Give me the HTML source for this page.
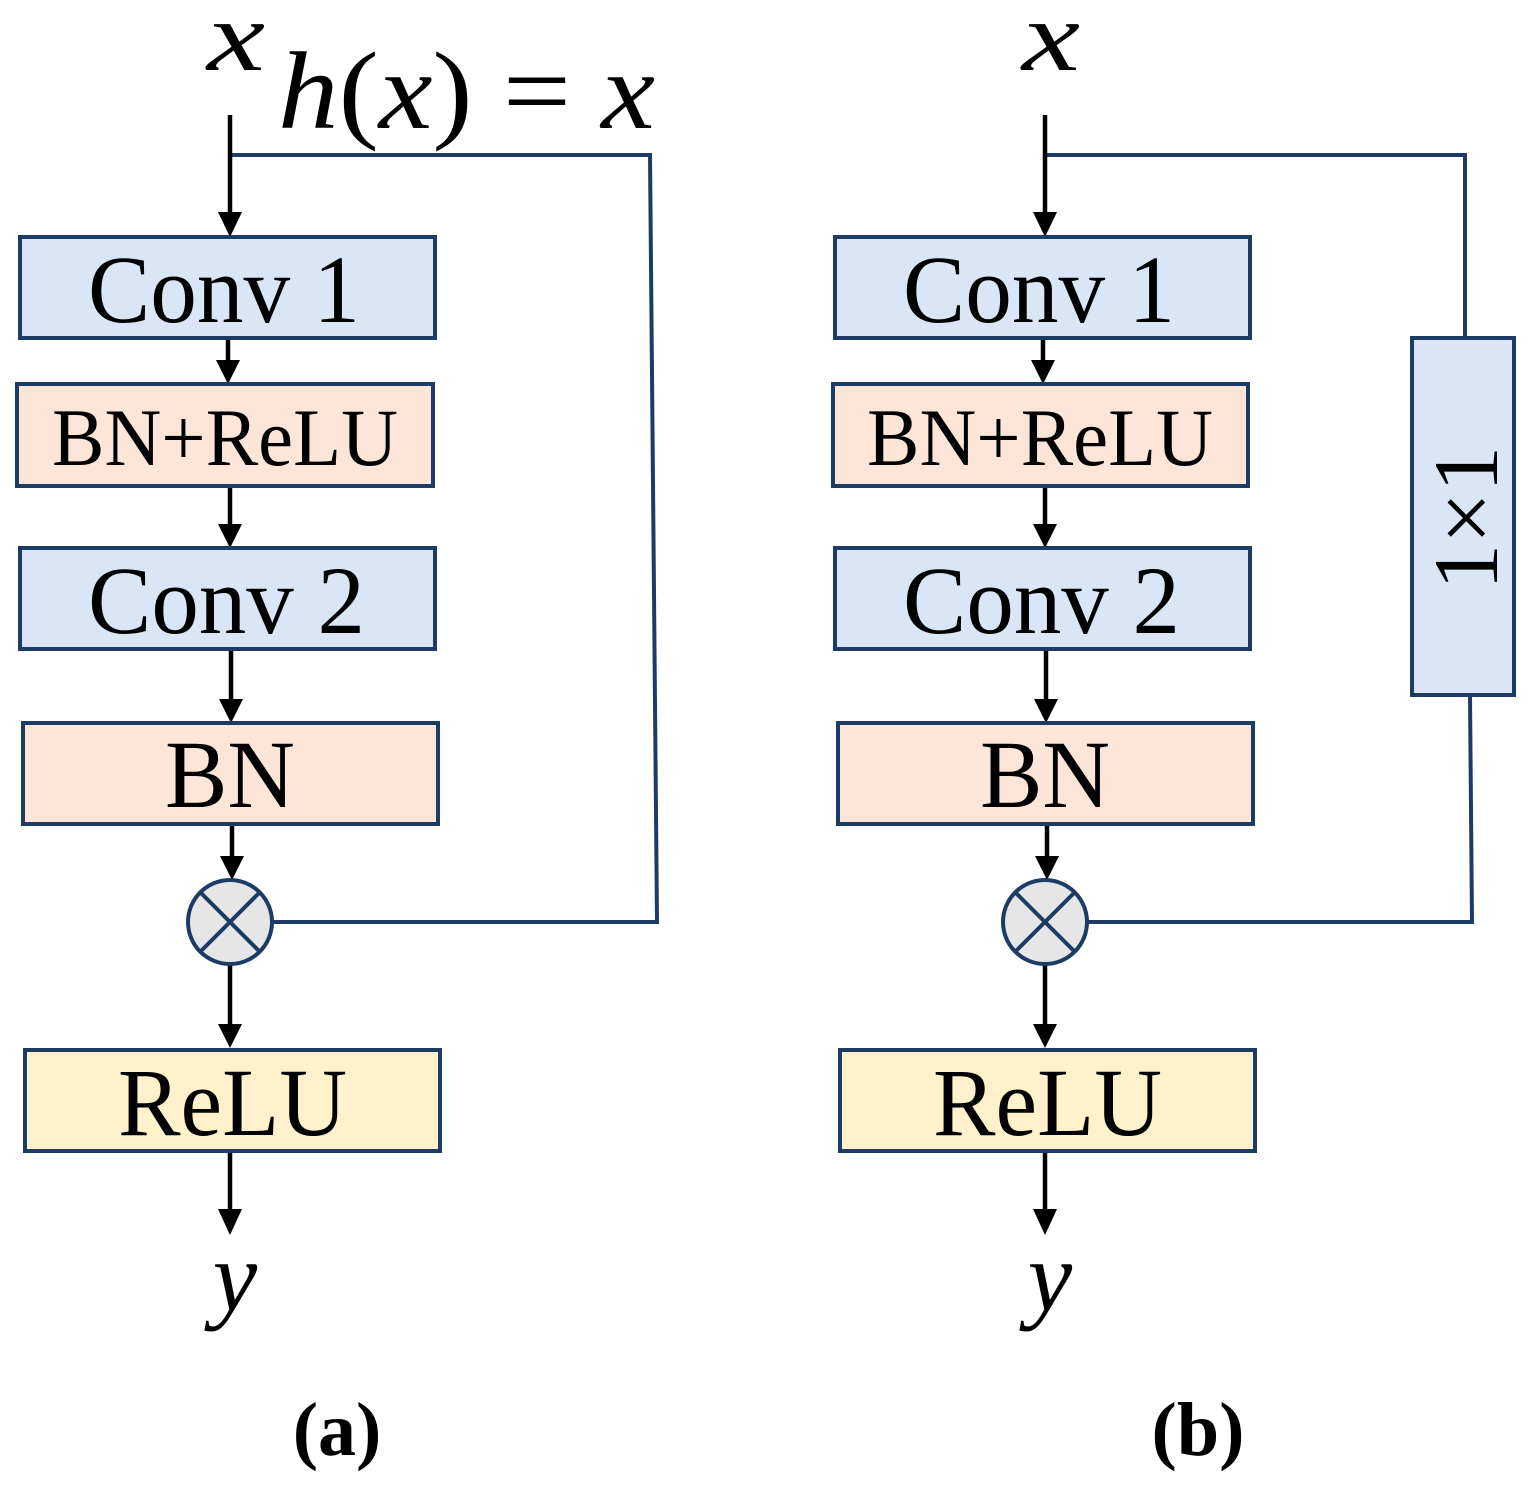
<!DOCTYPE html>
<html><head><meta charset="utf-8"><style>body{margin:0;background:#fff}svg{display:block}</style></head>
<body>
<svg width="1530" height="1503" viewBox="0 0 1530 1503" xmlns="http://www.w3.org/2000/svg" font-family="'Liberation Serif', serif">
<g id="a">
<text x="207" y="70" font-size="100" font-style="italic" textLength="58" lengthAdjust="spacingAndGlyphs">x</text>
<text x="278" y="128" font-size="110" textLength="377" lengthAdjust="spacingAndGlyphs"><tspan font-style="italic">h</tspan>(<tspan font-style="italic">x</tspan>) = <tspan font-style="italic">x</tspan></text>
<polyline points="230,155 650,155 657,922 273,922" fill="none" stroke="#1c3c66" stroke-width="4"/>
<g stroke="#000" stroke-width="4.5">
<line x1="230" y1="115" x2="230" y2="218"/>
<line x1="228" y1="338" x2="228" y2="366"/>
<line x1="230" y1="486" x2="230" y2="530"/>
<line x1="231" y1="649" x2="231" y2="705"/>
<line x1="232" y1="824" x2="232" y2="862"/>
<line x1="230" y1="964" x2="230" y2="1030"/>
<line x1="230" y1="1151" x2="230" y2="1215"/>
</g>
<g fill="#000">
<polygon points="218,212 242,212 230,237"/>
<polygon points="216,360 240,360 228,384"/>
<polygon points="218,524 242,524 230,548"/>
<polygon points="219,699 243,699 231,723"/>
<polygon points="220,856 244,856 232,880"/>
<polygon points="218,1024 242,1024 230,1048"/>
<polygon points="218,1209 242,1209 230,1235"/>
</g>
<g stroke="#1c3c66" stroke-width="4">
<rect x="20" y="237" width="415" height="101" fill="#dae6f5"/>
<rect x="17" y="384" width="416" height="102" fill="#fde6d8"/>
<rect x="20" y="548" width="415" height="101" fill="#dae6f5"/>
<rect x="23" y="723" width="415" height="101" fill="#fde6d8"/>
<rect x="25" y="1050" width="415" height="101" fill="#fff1cc"/>
<circle cx="230" cy="922" r="42" fill="#e6e6e6"/>
<line x1="200" y1="892" x2="260" y2="952"/>
<line x1="260" y1="892" x2="200" y2="952"/>
</g>
<g font-size="96" lengthAdjust="spacingAndGlyphs">
<text x="88" y="322" textLength="272" lengthAdjust="spacingAndGlyphs">Conv 1</text>
<text x="52" y="465" font-size="82" textLength="346" lengthAdjust="spacingAndGlyphs">BN+ReLU</text>
<text x="88" y="633" textLength="277" lengthAdjust="spacingAndGlyphs">Conv 2</text>
<text x="165" y="807" textLength="130" lengthAdjust="spacingAndGlyphs">BN</text>
<text x="118" y="1135" textLength="229" lengthAdjust="spacingAndGlyphs">ReLU</text>
</g>
<text x="235" y="1310" font-size="100" font-style="italic" text-anchor="middle">y</text>
<text x="337" y="1455" font-size="76" font-weight="bold" text-anchor="middle">(a)</text>
</g>
<g id="b">
<text x="1022" y="70" font-size="100" font-style="italic" textLength="58" lengthAdjust="spacingAndGlyphs">x</text>
<polyline points="1045,155 1465,155 1465,338" fill="none" stroke="#1c3c66" stroke-width="4"/>
<polyline points="1470,695 1472,922 1088,922" fill="none" stroke="#1c3c66" stroke-width="4"/>
<g stroke="#000" stroke-width="4.5">
<line x1="1045" y1="115" x2="1045" y2="218"/>
<line x1="1043" y1="338" x2="1043" y2="366"/>
<line x1="1045" y1="486" x2="1045" y2="530"/>
<line x1="1046" y1="649" x2="1046" y2="705"/>
<line x1="1047" y1="824" x2="1047" y2="862"/>
<line x1="1045" y1="964" x2="1045" y2="1030"/>
<line x1="1045" y1="1151" x2="1045" y2="1215"/>
</g>
<g fill="#000">
<polygon points="1033,212 1057,212 1045,237"/>
<polygon points="1031,360 1055,360 1043,384"/>
<polygon points="1033,524 1057,524 1045,548"/>
<polygon points="1034,699 1058,699 1046,723"/>
<polygon points="1035,856 1059,856 1047,880"/>
<polygon points="1033,1024 1057,1024 1045,1048"/>
<polygon points="1033,1209 1057,1209 1045,1235"/>
</g>
<g stroke="#1c3c66" stroke-width="4">
<rect x="835" y="237" width="415" height="101" fill="#dae6f5"/>
<rect x="833" y="384" width="415" height="102" fill="#fde6d8"/>
<rect x="835" y="548" width="415" height="101" fill="#dae6f5"/>
<rect x="838" y="723" width="415" height="101" fill="#fde6d8"/>
<rect x="840" y="1050" width="415" height="101" fill="#fff1cc"/>
<rect x="1412" y="338" width="102" height="357" fill="#dae6f5"/>
<circle cx="1045" cy="922" r="42" fill="#e6e6e6"/>
<line x1="1015" y1="892" x2="1075" y2="952"/>
<line x1="1075" y1="892" x2="1015" y2="952"/>
</g>
<g font-size="96">
<text x="903" y="322" textLength="272" lengthAdjust="spacingAndGlyphs">Conv 1</text>
<text x="867" y="465" font-size="82" textLength="346" lengthAdjust="spacingAndGlyphs">BN+ReLU</text>
<text x="903" y="633" textLength="277" lengthAdjust="spacingAndGlyphs">Conv 2</text>
<text x="980" y="807" textLength="130" lengthAdjust="spacingAndGlyphs">BN</text>
<text x="933" y="1135" textLength="229" lengthAdjust="spacingAndGlyphs">ReLU</text>
</g>
<text transform="translate(1497,518) rotate(-90)" font-size="92" text-anchor="middle">1×1</text>
<text x="1050" y="1310" font-size="100" font-style="italic" text-anchor="middle">y</text>
<text x="1198" y="1455" font-size="76" font-weight="bold" text-anchor="middle">(b)</text>
</g>
</svg>
</body></html>
